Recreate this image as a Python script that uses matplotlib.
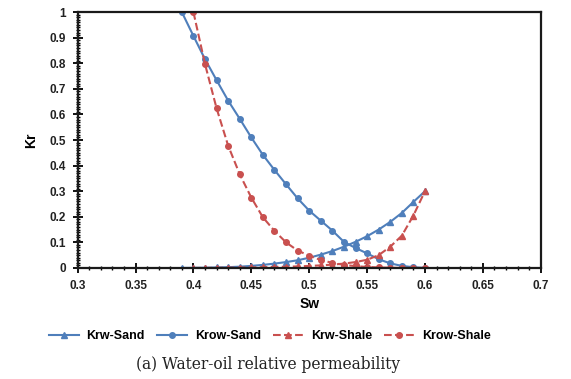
#!/usr/bin/env python3

import matplotlib
matplotlib.use('Agg')
import matplotlib.pyplot as plt
from matplotlib.ticker import MultipleLocator

# Water saturation grid for each curve
sw_sand = [0.39, 0.40, 0.41, 0.42, 0.43, 0.44, 0.45, 0.46, 0.47, 0.48, 0.49,
           0.50, 0.51, 0.52, 0.53, 0.54, 0.55, 0.56, 0.57, 0.58, 0.59, 0.60]
sw_shale = [0.40, 0.41, 0.42, 0.43, 0.44, 0.45, 0.46, 0.47, 0.48, 0.49, 0.50,
            0.51, 0.52, 0.53, 0.54, 0.55, 0.56, 0.57, 0.58, 0.59, 0.60]

krw_sand = [0.0, 0.0005, 0.001, 0.002, 0.003, 0.005, 0.008, 0.012, 0.017, 0.023,
            0.030, 0.040, 0.052, 0.066, 0.083, 0.102, 0.124, 0.150, 0.180, 0.215,
            0.258, 0.30]
krow_sand = [1.0, 0.907, 0.816, 0.734, 0.654, 0.583, 0.510, 0.442, 0.383, 0.327,
             0.272, 0.224, 0.185, 0.146, 0.102, 0.078, 0.057, 0.034, 0.018, 0.008,
             0.003, 0.0]
krw_shale = [0.0, 0.0, 0.0005, 0.001, 0.0015, 0.002, 0.003, 0.004, 0.005, 0.006,
             0.008, 0.010, 0.013, 0.017, 0.023, 0.032, 0.050, 0.083, 0.126, 0.205,
             0.30]
krow_shale = [1.0, 0.797, 0.624, 0.478, 0.366, 0.275, 0.198, 0.145, 0.100, 0.068,
              0.048, 0.031, 0.020, 0.012, 0.007, 0.004, 0.002, 0.001, 0.0, 0.0, 0.0]

blue = '#4f7fbb'
red = '#c9504f'

plt.rcParams['font.family'] = ['Liberation Sans', 'DejaVu Sans']

fig = plt.figure(figsize=(5.71, 3.79), dpi=100)
ax = fig.add_axes([0.136, 0.293, 0.811, 0.675])

ax.plot(sw_sand, krw_sand, '-', marker='^', color=blue, lw=1.5, ms=4, label='Krw-Sand')
ax.plot(sw_sand, krow_sand, '-', marker='o', color=blue, lw=1.5, ms=4, label='Krow-Sand')
ax.plot(sw_shale, krw_shale, '--', marker='^', color=red, lw=1.5, ms=4, label='Krw-Shale')
ax.plot(sw_shale, krow_shale, '--', marker='o', color=red, lw=1.5, ms=4, label='Krow-Shale')

ax.set_xlim(0.3, 0.7)
ax.set_ylim(0, 1)
ax.xaxis.set_major_locator(MultipleLocator(0.05))
ax.xaxis.set_minor_locator(MultipleLocator(0.01))
ax.yaxis.set_major_locator(MultipleLocator(0.1))
ax.yaxis.set_minor_locator(MultipleLocator(0.01))
ax.set_xticklabels([f'{v:g}' for v in ax.get_xticks()])
ax.set_yticklabels([f'{v:g}' for v in ax.get_yticks()])

ax.tick_params(which='major', direction='inout', length=7, width=1.3, labelsize=8.5, pad=5)
ax.tick_params(which='minor', direction='inout', length=3, width=1)
for lbl in ax.get_xticklabels() + ax.get_yticklabels():
    lbl.set_fontweight('bold')
    lbl.set_color('#222222')

for sp in ax.spines.values():
    sp.set_linewidth(1.6)
    sp.set_color('#1a1a1a')

ax.set_xlabel('Sw', fontsize=10, fontweight='bold', labelpad=4)
ax.set_ylabel('Kr', fontsize=10, fontweight='bold', labelpad=8)

leg = ax.legend(loc='upper center', bbox_to_anchor=(0.415, -0.2), ncol=4, frameon=False,
                handlelength=2.4, columnspacing=1.0, handletextpad=0.6,
                prop={'weight': 'bold', 'size': 9})

fig.text(0.47, 0.037, '(a) Water-oil relative permeability', ha='center', va='center',
         fontsize=11.2, family='DejaVu Serif', color='#222222')

fig.savefig('out.png', dpi=100)
